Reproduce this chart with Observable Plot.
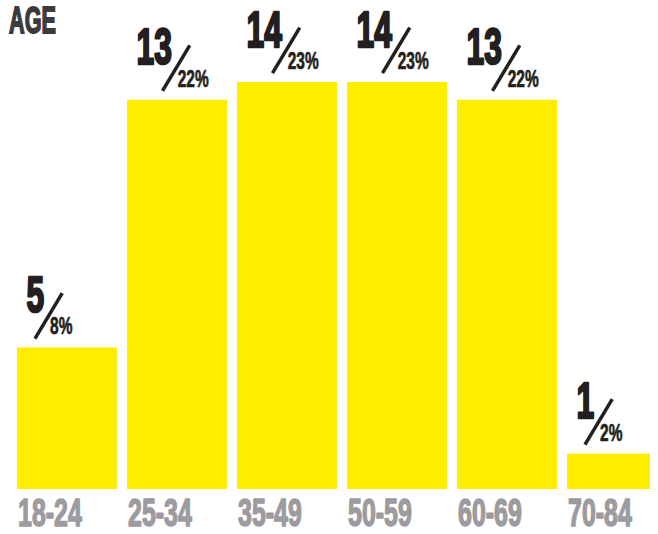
<!DOCTYPE html>
<html>
<head>
<meta charset="utf-8">
<script src="https://cdn.jsdelivr.net/npm/d3@7"></script>
<script src="https://cdn.jsdelivr.net/npm/@observablehq/plot@0.6"></script>
<style>
  html, body { margin: 0; padding: 0; background: #fff; overflow: hidden; }
  #wrap { position: relative; width: 658px; height: 534px; }
  #wrap svg { display: block; position: absolute; left: 0; top: 0; }
  #title {
    position: absolute; left: 8.5px; top: 2.8px; z-index: 2;
    font-family: "Liberation Sans", Arial, sans-serif;
    font-weight: bold; font-size: 37px; line-height: 36px; color: #3b3b3d;
    -webkit-text-stroke: 1.8px #3b3b3d;
    transform: scaleX(0.585); transform-origin: left top; white-space: nowrap;
  }
</style>
</head>
<body>
<div id="wrap"><div id="title">AGE</div></div>
<script>
const ages = ["18-24", "25-34", "35-49", "50-59", "60-69", "70-84"];
const counts = [5, 13, 14, 14, 13, 1];
const pcts = [8, 22, 23, 23, 22, 2];

const data = ages.map((age, i) => ({age, count: counts[i], pct: pcts[i]}));
const lastAge = ages[ages.length - 1];

const yellow = "#ffed00";
const ink = "#231f20";
const grey = "#9b9ba0";
const sans = "Liberation Sans, Arial, sans-serif";

// label pieces positioned relative to the number's right edge (digit count dependent)
const numStart = -41;
const digitW = 17.6;
const labelMarks = [1, 2].flatMap(n => {
  const sub = data.filter(d => String(d.count).length === n);
  const end = numStart + n * digitW;
  return [
    Plot.text(sub, {
      x: "age", y: "pct", text: () => "\u2014",
      fontFamily: sans, fontSize: 53, fill: ink,
      rotate: -59, textAnchor: "middle", lineAnchor: "middle",
      dx: end + 1.5, dy: -34
    }),
    Plot.text(sub, {
      x: "age", y: "pct", text: d => d.pct + "%",
      fontFamily: sans, fontWeight: "bold", fontSize: 24.7, fill: ink,
      stroke: ink, strokeWidth: 0.7, strokeLinejoin: "round",
      textAnchor: "start", lineAnchor: "bottom",
      dx: end + 6, dy: -13.5
    })
  ];
});

const chart = Plot.plot({
  width: 658,
  height: 534,
  marginTop: 82,
  marginBottom: 45,
  marginLeft: 16,
  marginRight: 0,
  x: {domain: ages, range: [16, 668], paddingInner: 0.094, paddingOuter: 0, axis: null},
  y: {domain: [0, 23], axis: null},
  marks: [
    Plot.barY(data.filter(d => d.age !== lastAge), {x: "age", y: "pct", fill: yellow}),
    Plot.barY(data.filter(d => d.age === lastAge), {x: "age", y: "pct", fill: yellow, insetRight: 17}),
    Plot.text(data, {
      x: "age", y: "pct", text: d => String(d.count),
      fontFamily: sans, fontWeight: "bold", fontSize: 49.6, fill: ink,
      stroke: ink, strokeWidth: 2.5, strokeLinejoin: "round",
      textAnchor: "start", lineAnchor: "bottom",
      dx: numStart, dy: -36
    }),
    ...labelMarks,
    Plot.text(data, {
      x: "age", text: "age", frameAnchor: "bottom",
      fontFamily: sans, fontWeight: "bold", fontSize: 38.4, fill: grey,
      stroke: grey, strokeWidth: 1.5, strokeLinejoin: "round",
      textAnchor: "start", lineAnchor: "bottom",
      dx: -49.5, dy: 36.8
    })
  ]
});

// condense the bold type horizontally to match the reference's compressed face
const squeeze = {"49.6": 0.64, "24.7": 0.627, "38.4": 0.65};
d3.select(chart).selectAll("text").each(function () {
  let fs = null;
  for (let el = this; el && el !== chart; el = el.parentNode) {
    if (el.getAttribute && el.getAttribute("font-size")) { fs = el.getAttribute("font-size"); break; }
  }
  const k = squeeze[fs];
  if (k) {
    const t = this.getAttribute("transform") || "";
    this.setAttribute("transform", `${t} scale(${k},1)`);
  }
});

document.getElementById("wrap").insertBefore(chart, document.getElementById("title"));
</script>
</body>
</html>
